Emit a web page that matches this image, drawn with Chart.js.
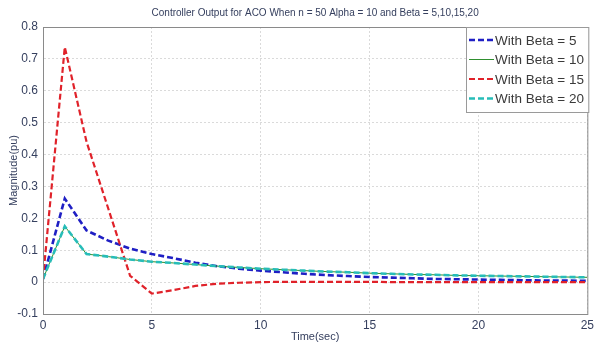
<!DOCTYPE html>
<html>
<head>
<meta charset="utf-8">
<script src="https://cdn.jsdelivr.net/npm/chart.js@4.4.1/dist/chart.umd.min.js"></script>
<style>
  html, body { margin: 0; padding: 0; background: #fff; }
  #wrap { width: 598px; height: 350px; }
</style>
</head>
<body>
<div id="wrap"><canvas id="acoChart" width="598" height="350"></canvas></div>
<script>
// sample times (sec)
const time = [0, 1, 2, 3, 4, 5, 6, 7, 8, 9, 10, 11, 12, 13, 14, 15, 16, 17, 18, 19, 20, 21, 22, 23, 24, 25];

// controller output (pu) for each beta
const beta5  = [0.01, 0.262, 0.162, 0.130, 0.105, 0.088, 0.075, 0.061, 0.050, 0.042, 0.036, 0.031, 0.026, 0.022, 0.019, 0.016, 0.014, 0.012, 0.010, 0.009, 0.008, 0.007, 0.006, 0.005, 0.005, 0.004];
const beta10 = [0.01, 0.175, 0.088, 0.080, 0.071, 0.064, 0.060, 0.055, 0.050, 0.046, 0.042, 0.039, 0.036, 0.033, 0.031, 0.028, 0.026, 0.024, 0.023, 0.021, 0.020, 0.019, 0.018, 0.017, 0.016, 0.015];
const beta15 = [0.01, 0.737, 0.440, 0.230, 0.020, -0.036, -0.025, -0.012, -0.005, -0.002, 0.000, 0.001, 0.001, 0.001, 0.001, 0.001, 0.000, 0.000, 0.000, 0.000, 0.000, 0.000, 0.000, 0.000, 0.000, 0.000];
const beta20 = [0.01, 0.175, 0.088, 0.080, 0.071, 0.064, 0.060, 0.055, 0.050, 0.046, 0.042, 0.039, 0.036, 0.033, 0.031, 0.028, 0.026, 0.024, 0.023, 0.021, 0.020, 0.019, 0.018, 0.017, 0.016, 0.015];

const seriesLabels = ['With Beta = 5', 'With Beta = 10', 'With Beta = 15', 'With Beta = 20'];
const titleText = 'Controller Output for ACO When n = 50 Alpha = 10 and Beta = 5,10,15,20';

const textColor = '#36405f';
const FONT = "'Liberation Sans', Arial, sans-serif";

function pts(ys) {
    return time.map((t, i) => ({ x: t, y: ys[i] }));
}

// box around the axes, title on top and a matlab-style legend
const matlabFrame = {
    id: 'matlabFrame',
    afterDraw(chart) {
        const { ctx, chartArea: a } = chart;
        ctx.save();
        ctx.strokeStyle = '#8a8a8a';
        ctx.lineWidth = 1;
        ctx.strokeRect(a.left + 0.5, a.top + 0.5, a.right - a.left, a.bottom - a.top);

        // title
        ctx.fillStyle = textColor;
        ctx.font = "10px " + FONT;
        ctx.textAlign = 'center';
        ctx.textBaseline = 'middle';
        ctx.fillText(titleText, (a.left + a.right) / 2, 13);

        // legend
        const lx = 466, ly = 27, lw = a.right - lx + 1, lh = 85;
        ctx.fillStyle = '#fff';
        ctx.fillRect(lx, ly, lw, lh);
        ctx.strokeStyle = '#9a9a9a';
        ctx.strokeRect(lx + 0.5, ly + 0.5, lw, lh);
        ctx.font = "13.5px " + FONT;
        ctx.textAlign = 'left';
        chart.data.datasets.forEach((ds, i) => {
            const y = ly + 13 + i * 19.5;
            ctx.strokeStyle = ds.borderColor;
            ctx.lineWidth = ds.borderWidth;
            ctx.setLineDash(ds.borderDash || []);
            ctx.beginPath();
            ctx.moveTo(lx + 3, y);
            ctx.lineTo(lx + 28, y);
            ctx.stroke();
            ctx.setLineDash([]);
            ctx.fillStyle = '#3a3a3a';
            ctx.fillText(ds.label, lx + 29, y + 1);
        });
        ctx.restore();
    }
};

new Chart(document.getElementById('acoChart'), {
    type: 'line',
    data: {
        datasets: [
            { label: seriesLabels[0], data: pts(beta5), borderColor: '#1f1fc4', borderWidth: 2.6, borderDash: [6, 3], order: 4 },
            { label: seriesLabels[1], data: pts(beta10), borderColor: '#2f8f2f', borderWidth: 1, order: 3 },
            { label: seriesLabels[2], data: pts(beta15), borderColor: '#e0222a', borderWidth: 2.2, borderDash: [6, 3], order: 2 },
            { label: seriesLabels[3], data: pts(beta20), borderColor: '#27bdb8', borderWidth: 2.6, borderDash: [6, 3], order: 1 }
        ]
    },
    options: {
        responsive: false,
        animation: false,
        layout: { padding: { top: 27, right: 8, left: 0, bottom: 0 } },
        elements: { point: { radius: 0 }, line: { tension: 0, fill: false } },
        plugins: {
            legend: { display: false },
            tooltip: { enabled: false }
        },
        scales: {
            x: {
                type: 'linear',
                min: 0,
                max: 25,
                afterFit: s => { s.height = 36; },
                ticks: { stepSize: 5, color: textColor, padding: 4, font: { family: FONT, size: 12 } },
                grid: { color: '#dadada', drawTicks: false },
                border: { color: '#8a8a8a', dash: [2, 2] },
                title: { display: true, text: 'Time(sec)', color: textColor, font: { family: FONT, size: 11 }, padding: { top: 0, bottom: 6 } }
            },
            y: {
                min: -0.1,
                max: 0.8,
                afterFit: s => { s.width = 43; },
                ticks: { stepSize: 0.1, color: textColor, padding: 5, font: { family: FONT, size: 12 } },
                grid: { color: '#dadada', drawTicks: false },
                border: { color: '#8a8a8a', dash: [2, 2] },
                title: { display: true, text: 'Magnitude(pu)', color: textColor, font: { family: FONT, size: 11 }, padding: { top: 7, bottom: 0 } }
            }
        }
    },
    plugins: [matlabFrame]
});
</script>
</body>
</html>
